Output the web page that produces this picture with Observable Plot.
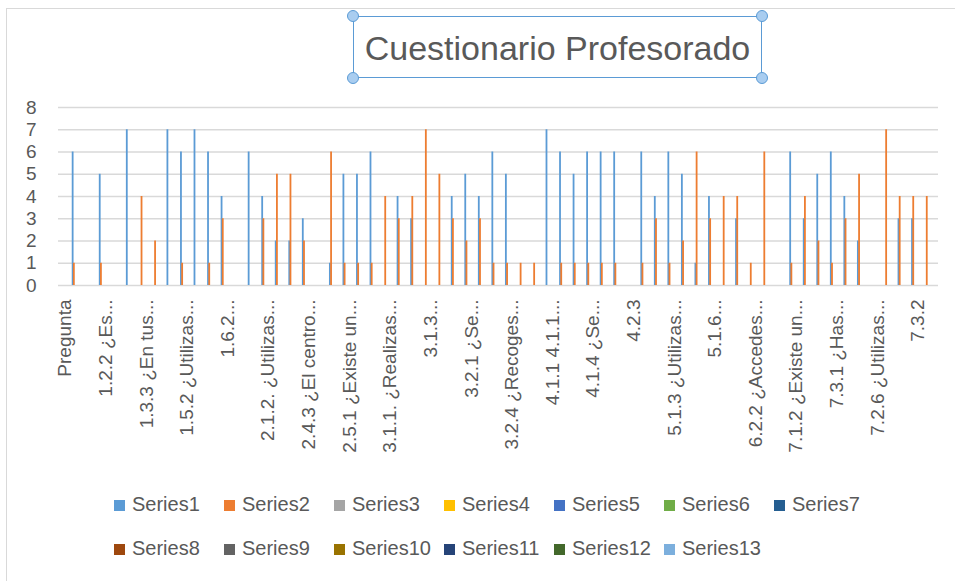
<!DOCTYPE html>
<html><head><meta charset="utf-8">
<script src="https://cdn.jsdelivr.net/npm/d3@7"></script>
<script src="https://cdn.jsdelivr.net/npm/@observablehq/plot@0.6"></script>
<style>
html,body{margin:0;padding:0;background:#fff;}
#wrap{position:relative;width:955px;height:581px;overflow:hidden;font-family:"Liberation Sans",Arial,sans-serif;background:#fff;}
#frame{position:absolute;left:6px;top:8px;width:1000px;height:700px;border:1.5px solid #d9d9d9;}
#chart{position:absolute;left:0;top:0;}
#titlebox{position:absolute;left:353px;top:16px;width:409px;height:62px;box-sizing:border-box;border:1.6px solid #5b9bd5;}
#titletext{position:absolute;left:353px;top:31px;width:409px;text-align:center;font-size:34px;line-height:34px;color:#595959;white-space:nowrap;}
.handle{position:absolute;width:12px;height:12px;border-radius:50%;background:#a9cdf0;border:1.5px solid #5b9bd5;box-sizing:border-box;}
.lrow{position:absolute;left:114px;display:flex;font-size:20px;line-height:22px;color:#595959;white-space:nowrap;}
.litem{width:110px;display:flex;align-items:center;}
.sw{width:11px;height:11px;margin-right:7px;margin-top:3px;flex:none;}
</style></head>
<body>
<div id="wrap">
  <div id="frame"></div>
  <div id="chart"></div>
  <div id="titlebox"></div>
  <div id="titletext">Cuestionario Profesorado</div>
  <div class="handle" style="left:347px;top:10px"></div>
  <div class="handle" style="left:756px;top:10px"></div>
  <div class="handle" style="left:347px;top:72px"></div>
  <div class="handle" style="left:756px;top:72px"></div>
  <div class="lrow" id="row1" style="top:493px"></div>
  <div class="lrow" id="row2" style="top:537px"></div>
</div>
<script>
// Visible category tick labels (every third category)
const labels = ["Pregunta","1.2.2 ¿Es...","1.3.3 ¿En tus...","1.5.2 ¿Utilizas...","1.6.2...",
  "2.1.2. ¿Utilizas...","2.4.3 ¿El centro...","2.5.1 ¿Existe un...","3.1.1. ¿Realizas...","3.1.3...",
  "3.2.1 ¿Se...","3.2.4 ¿Recoges...","4.1.1 4.1.1...","4.1.4 ¿Se...","4.2.3","5.1.3 ¿Utilizas...",
  "5.1.6...","6.2.2 ¿Accedes...","7.1.2 ¿Existe un...","7.3.1 ¿Has...","7.2.6 ¿Utilizas...","7.3.2"];
// Series values per category (65 categories)
const series1 = [0,6,0,5,0,7,0,0,7,6,7,6,4,0,6,4,2,2,3,0,1,5,5,6,0,4,3,0,0,4,5,4,6,5,0,0,7,6,5,6,6,6,0,6,4,6,5,1,4,0,3,0,0,0,6,3,5,6,4,2,0,0,3,3,0];
const series2 = [0,1,0,1,0,0,4,2,0,1,0,1,3,0,0,3,5,5,2,0,6,1,1,1,4,3,4,7,5,3,2,3,1,1,1,1,0,1,1,1,1,1,0,1,3,1,2,6,3,4,4,1,6,0,1,4,2,1,3,5,0,7,4,4,4];
const seriesNames = ["Series1","Series2","Series3","Series4","Series5","Series6","Series7",
  "Series8","Series9","Series10","Series11","Series12","Series13"];
const seriesColors = ["#5b9bd5","#ed7d31","#a5a5a5","#ffc000","#4472c4","#70ad47","#255e91",
  "#9e480e","#636363","#997300","#264478","#43682b","#7cafdd"];
const yTicks = [0,1,2,3,4,5,6,7,8];

const n = series1.length;
const rows = d3.range(n).map(i => ({i, s1: series1[i], s2: series2[i]}));

const width = 955, height = 480, mL = 58, mR = 17;
const bw = (width - mL - mR) / n;

const chart = Plot.plot({
  width, height,
  marginLeft: mL, marginRight: mR, marginTop: 107, marginBottom: 195,
  style: {fontFamily: "Liberation Sans, Arial, sans-serif", background: "transparent", overflow: "visible"},
  x: {type: "band", domain: d3.range(n), padding: 0, round: false, axis: null, label: null},
  y: {domain: [0, 8], axis: null, label: null},
  marks: [
    Plot.gridY(yTicks, {stroke: "#d9d9d9", strokeOpacity: 1, strokeWidth: 1.3}),
    Plot.axisY(yTicks, {tickSize: 0, tickPadding: 22, fontSize: 19, fill: "#595959", label: null}),
    Plot.axisX(d3.range(0, n, 3), {tickSize: 0, tickPadding: 14, tickRotate: -90, label: null,
      tickFormat: i => labels[i / 3], fontSize: 19, fill: "#595959"}),
    Plot.barY(rows.filter(d => d.s1 > 0), {x: "i", y: "s1", fill: seriesColors[0],
      insetLeft: 0.2, insetRight: bw - 2.0}),
    Plot.barY(rows.filter(d => d.s2 > 0), {x: "i", y: "s2", fill: seriesColors[1],
      insetLeft: 1.4, insetRight: bw - 3.2})
  ]
});
document.getElementById("chart").appendChild(chart);

function legendRow(el, idx) {
  idx.forEach(k => {
    const item = document.createElement("div");
    item.className = "litem";
    const sw = document.createElement("span");
    sw.className = "sw";
    sw.style.background = seriesColors[k];
    const t = document.createElement("span");
    t.textContent = seriesNames[k];
    item.appendChild(sw); item.appendChild(t);
    el.appendChild(item);
  });
}
legendRow(document.getElementById("row1"), [0,1,2,3,4,5,6]);
legendRow(document.getElementById("row2"), [7,8,9,10,11,12]);
</script>
</body></html>
